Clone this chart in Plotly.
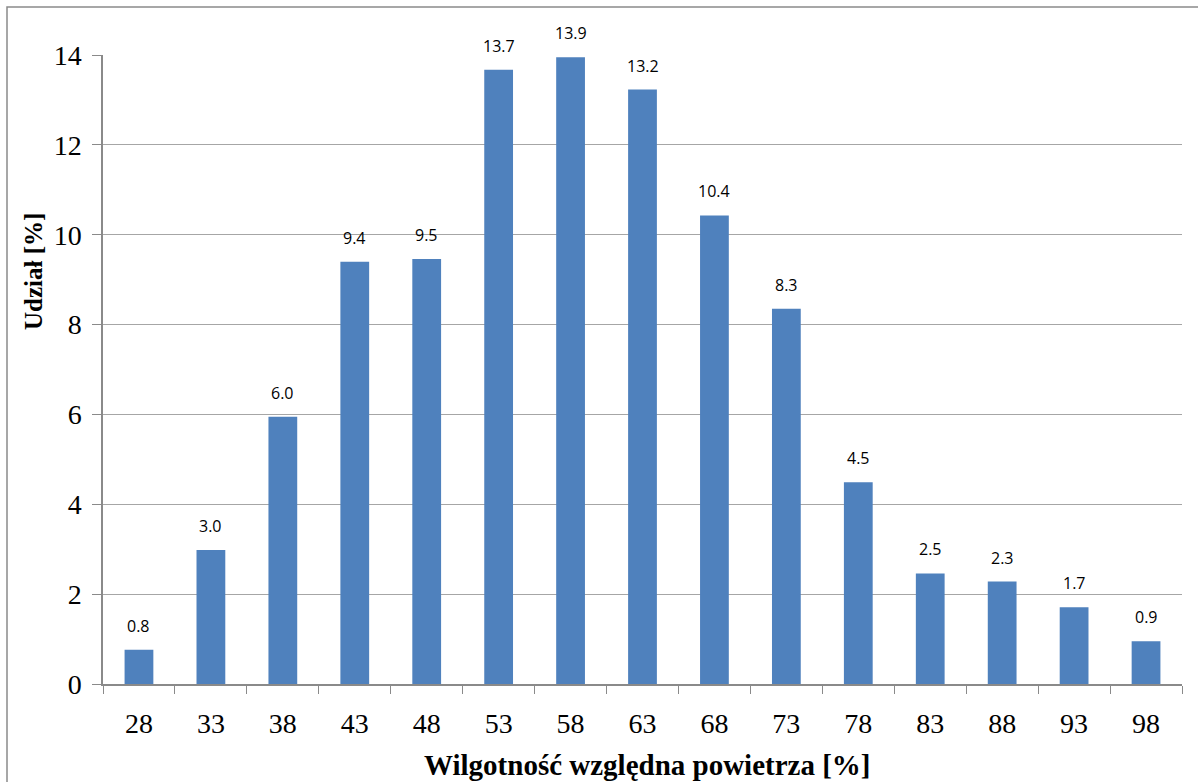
import plotly.graph_objects as go

categories = ["28", "33", "38", "43", "48", "53", "58", "63", "68", "73", "78", "83", "88", "93", "98"]
values = [0.76, 2.98, 5.95, 9.40, 9.46, 13.67, 13.95, 13.23, 10.43, 8.35, 4.49, 2.46, 2.28, 1.71, 0.95]
labels = [f"{v:.1f}" for v in values]
y_ticks = [0, 2, 4, 6, 8, 10, 12, 14]

W, H = 1198, 782
L, R, T, B = 103, 16, 55, 98
pw, ph = W - L - R, H - T - B

fig = go.Figure()
fig.add_trace(go.Bar(
    x=categories, y=values, marker=dict(color="#4f81bd", line=dict(width=0)),
    width=0.4, hoverinfo="skip"
))

for i, (v, t) in enumerate(zip(values, labels)):
    fig.add_annotation(x=i, y=v, text=t, showarrow=False, yanchor="bottom", yshift=11,
                       font=dict(family="Open Sans, Liberation Sans, sans-serif", size=16, color="#000"))

def px_x(p):
    return (p - L) / pw

def px_y(p):
    return (H - B - p) / ph

fig.add_shape(type="rect", xref="paper", yref="paper",
              x0=px_x(7), x1=px_x(1230), y0=px_y(7), y1=px_y(820),
              line=dict(color="#8a8a8a", width=1.5), fillcolor="rgba(0,0,0,0)", layer="below")

# axis titles
fig.add_annotation(xref="paper", yref="paper", x=px_x(647), y=px_y(765),
                   text="<b>Wilgotność względna powietrza [%]</b>", showarrow=False,
                   xanchor="center", yanchor="middle",
                   font=dict(size=29, family="Liberation Serif, serif", color="#000"))
fig.add_annotation(xref="paper", yref="paper", x=px_x(33), y=px_y(272),
                   text="<b>Udział [%]</b>", showarrow=False, textangle=-90,
                   xanchor="center", yanchor="middle",
                   font=dict(size=25, family="Liberation Serif, serif", color="#000"))

fig.update_layout(
    width=W, height=H,
    margin=dict(l=L, r=R, t=T, b=B, pad=0),
    paper_bgcolor="white", plot_bgcolor="white",
    showlegend=False, bargap=0.6,
    font=dict(family="Liberation Serif, Times New Roman, serif", color="#000"),
    xaxis=dict(
        type="category", range=[-0.5, len(categories) - 0.5], tickangle=0,
        tickson="boundaries", ticks="outside", ticklen=8,
        tickcolor="#8a8a8a", tickwidth=1, showline=True, linecolor="#8a8a8a", linewidth=1.5,
        showgrid=False, tickfont=dict(size=28, family="Liberation Serif, serif"),
        ticklabelstandoff=14, zeroline=False,
    ),
    yaxis=dict(
        range=[0, 14], tickvals=y_ticks, ticks="outside", ticklen=9, tickcolor="#8a8a8a",
        tickwidth=1, showline=True, linecolor="#8a8a8a", linewidth=1.5,
        showgrid=True, gridcolor="#a6a6a6", gridwidth=1, zeroline=False,
        tickfont=dict(size=28, family="Liberation Serif, serif"), ticklabelstandoff=5,
    ),
)

fig.write_html("out.html")
